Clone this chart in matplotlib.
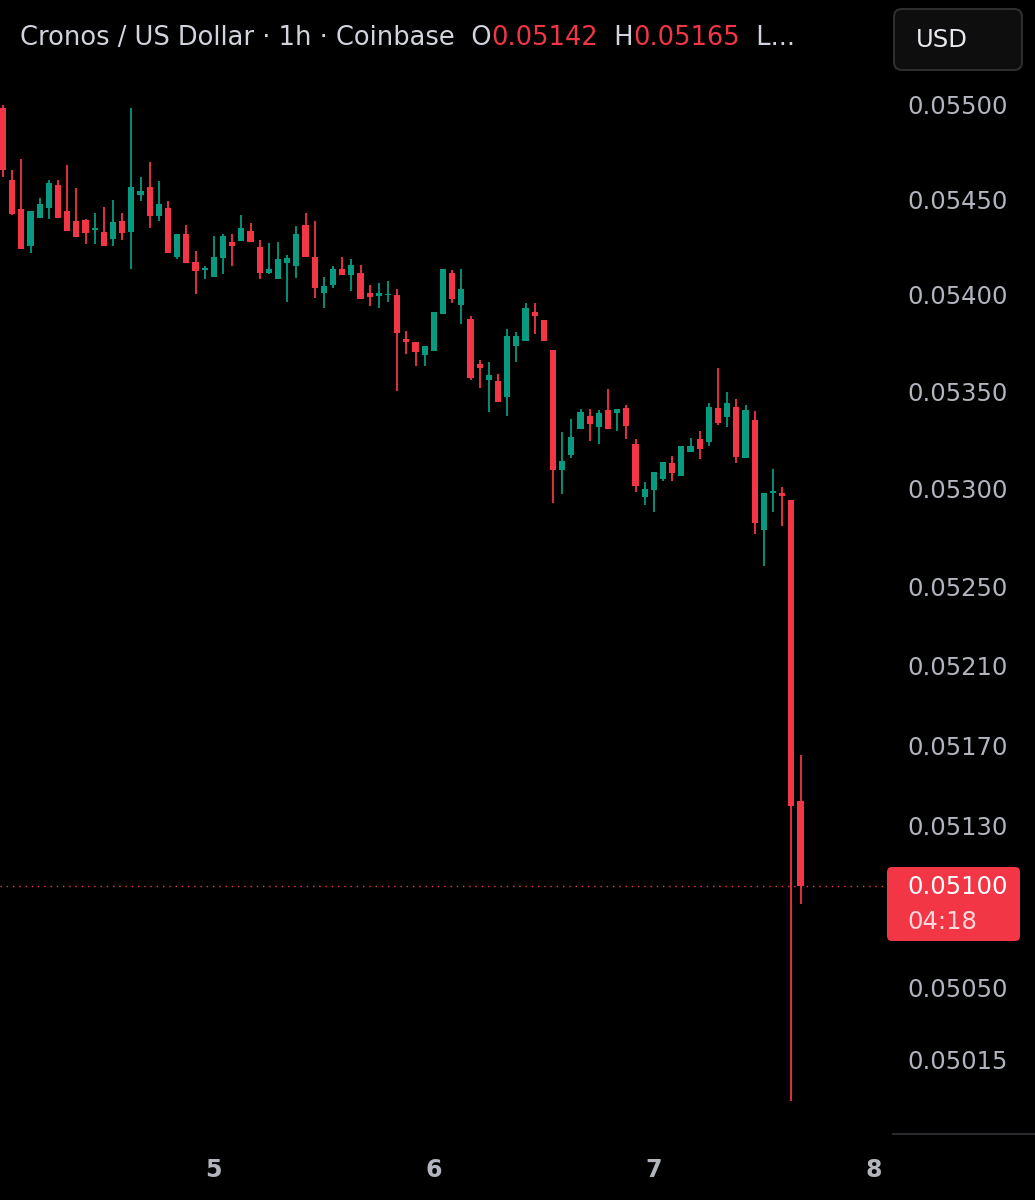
import numpy as np
import matplotlib.pyplot as plt
from matplotlib.patches import FancyBboxPatch
from matplotlib.ticker import FixedLocator, FixedFormatter, NullLocator, NullFormatter

plt.rcParams['font.family'] = ['DejaVu Sans']

# CRO/USD 1h candles (Coinbase), first candle = day 4 01:00
opens = [0.054984, 0.054605, 0.054448, 0.054255, 0.054400, 0.054453, 0.054574, 0.054437,
         0.054384, 0.054390, 0.054340, 0.054327, 0.054290, 0.054384, 0.054327, 0.054521,
         0.054563, 0.054411, 0.054453, 0.054200, 0.054316, 0.054169, 0.054132, 0.054095,
         0.054190, 0.054274, 0.054279, 0.054332, 0.054248, 0.054116, 0.054085, 0.054164,
         0.054153, 0.054364, 0.054195, 0.054011, 0.054053, 0.054137, 0.054101, 0.054116,
         0.054011, 0.053995, 0.053998, 0.054000, 0.053770, 0.053755, 0.053688, 0.053708,
         0.053901, 0.054116, 0.053948, 0.053875, 0.053640, 0.053557, 0.053552, 0.053470,
         0.053734, 0.053760, 0.053911, 0.053870, 0.053713, 0.053092, 0.053168, 0.053306,
         0.053372, 0.053316, 0.053403, 0.053388, 0.053413, 0.053225, 0.052954, 0.052990,
         0.053046, 0.053128, 0.053061, 0.053184, 0.053250, 0.053235, 0.053413, 0.053367,
         0.053418, 0.053153, 0.053352, 0.052784, 0.052974, 0.052977, 0.052938, 0.051420]
highs = [0.055000, 0.054653, 0.054716, 0.054437, 0.054506, 0.054605, 0.054605, 0.054684,
         0.054558, 0.054395, 0.054427, 0.054458, 0.054495, 0.054427, 0.054984, 0.054616,
         0.054695, 0.054595, 0.054490, 0.054316, 0.054364, 0.054227, 0.054148, 0.054306,
         0.054316, 0.054316, 0.054416, 0.054374, 0.054285, 0.054269, 0.054274, 0.054206,
         0.054358, 0.054427, 0.054385, 0.054095, 0.054153, 0.054195, 0.054185, 0.054158,
         0.054053, 0.054064, 0.054074, 0.054032, 0.053813, 0.053755, 0.053734, 0.053911,
         0.054137, 0.054127, 0.054137, 0.053891, 0.053661, 0.053651, 0.053589, 0.053823,
         0.053807, 0.053958, 0.053958, 0.053870, 0.053713, 0.053286, 0.053357, 0.053408,
         0.053408, 0.053403, 0.053510, 0.053408, 0.053429, 0.053250, 0.053031, 0.053082,
         0.053133, 0.053163, 0.053214, 0.053255, 0.053296, 0.053439, 0.053620, 0.053495,
         0.053459, 0.053429, 0.053398, 0.052974, 0.053097, 0.053005, 0.052938, 0.051650]
lows = [0.054616, 0.054416, 0.054242, 0.054221, 0.054400, 0.054395, 0.054400, 0.054332,
        0.054300, 0.054268, 0.054268, 0.054253, 0.054253, 0.054285, 0.054137, 0.054490,
        0.054348, 0.054384, 0.054216, 0.054185, 0.054164, 0.054006, 0.054080, 0.054095,
        0.054111, 0.054153, 0.054279, 0.054274, 0.054080, 0.054111, 0.054085, 0.053964,
        0.054090, 0.054195, 0.053984, 0.053932, 0.054037, 0.054101, 0.054021, 0.053978,
        0.053943, 0.053932, 0.053964, 0.053500, 0.053693, 0.053630, 0.053630, 0.053708,
        0.053901, 0.053956, 0.053849, 0.053557, 0.053516, 0.053393, 0.053444, 0.053372,
        0.053651, 0.053760, 0.053797, 0.053760, 0.052923, 0.052970, 0.053153, 0.053306,
        0.053240, 0.053225, 0.053306, 0.053291, 0.053250, 0.052980, 0.052912, 0.052876,
        0.053036, 0.053036, 0.053061, 0.053184, 0.053148, 0.053214, 0.053327, 0.053316,
        0.053127, 0.053153, 0.052763, 0.052603, 0.052876, 0.052804, 0.049950, 0.050913]
closes = [0.054653, 0.054421, 0.054242, 0.054437, 0.054478, 0.054588, 0.054400, 0.054332,
          0.054300, 0.054321, 0.054350, 0.054253, 0.054379, 0.054321, 0.054563, 0.054542,
          0.054411, 0.054474, 0.054216, 0.054316, 0.054164, 0.054122, 0.054137, 0.054195,
          0.054306, 0.054253, 0.054348, 0.054274, 0.054116, 0.054137, 0.054185, 0.054190,
          0.054316, 0.054195, 0.054037, 0.054048, 0.054137, 0.054101, 0.054158, 0.053978,
          0.053990, 0.054011, 0.054006, 0.053802, 0.053755, 0.053703, 0.053734, 0.053911,
          0.054137, 0.053978, 0.054032, 0.053568, 0.053619, 0.053583, 0.053444, 0.053786,
          0.053786, 0.053932, 0.053890, 0.053760, 0.053092, 0.053138, 0.053265, 0.053393,
          0.053332, 0.053388, 0.053306, 0.053408, 0.053321, 0.053010, 0.052995, 0.053082,
          0.053133, 0.053077, 0.053214, 0.053214, 0.053199, 0.053418, 0.053337, 0.053439,
          0.053158, 0.053403, 0.052820, 0.052974, 0.052985, 0.052960, 0.051395, 0.051000]

price_ticks = [0.05500, 0.05450, 0.05400, 0.05350, 0.05300, 0.05250,
               0.05210, 0.05170, 0.05130, 0.05050, 0.05015]
day_ticks = [5, 6, 7, 8]
countdown = "04:18"

UP = "#089981"
DOWN = "#f23645"
GREY = "#b2b5be"
HEAD = "#d1d4dc"

o = np.array(opens)
h = np.array(highs)
l = np.array(lows)
c = np.array(closes)
t = 4 + (1 + np.arange(len(o))) / 24.0   # day number
col = np.where(c >= o, UP, DOWN)

fig = plt.figure(figsize=(10.35, 12), dpi=100, facecolor="black")
ax = fig.add_axes([0, 66 / 1200, 885 / 1035, 1134 / 1200])
ax.set_facecolor("black")

ax.vlines(t, l, h, colors=col, lw=1.3)
lo = np.minimum(o, c)
body = np.maximum(np.abs(c - o), 0.000008)
ax.bar(t, body, bottom=lo, width=0.68 / 24, color=col, linewidth=0)

# last price line
ax.axhline(c[-1], color=DOWN, lw=1, ls=(0, (1, 3.5)))

ax.set_yscale("log")
ax.set_ylim(0.049792, 0.055561)
ax.set_xlim(4.028, 8.0507)
ax.yaxis.set_major_locator(FixedLocator(price_ticks))
ax.yaxis.set_major_formatter(FixedFormatter([f"{p:.5f}" for p in price_ticks]))
ax.yaxis.set_minor_locator(NullLocator())
ax.yaxis.set_minor_formatter(NullFormatter())
ax.yaxis.tick_right()
ax.tick_params(axis="y", length=0, pad=16, labelsize=17.5, labelcolor=GREY)
ax.set_xticks(day_ticks)
ax.set_xticklabels([str(d) for d in day_ticks], fontweight="bold")
ax.tick_params(axis="x", length=0, pad=17, labelsize=17, labelcolor=GREY)
for s in ax.spines.values():
    s.set_visible(False)

# overlay in pixel coords for header, currency button, price tag
ov = fig.add_axes([0, 0, 1, 1])
ov.set_xlim(0, 1035)
ov.set_ylim(1200, 0)
ov.axis("off")

parts = [("Cronos / US Dollar · 1h · Coinbase", HEAD), ("  O", HEAD),
         (f"{o[-1]:.5f}", DOWN), ("  H", HEAD), (f"{h[-1]:.5f}", DOWN), ("  L...", HEAD)]
prev = ov.text(20, 38, parts[0][0], color=parts[0][1], fontsize=18.5, va="center", ha="left")
for txt, cc in parts[1:]:
    prev = ov.annotate(txt, xy=(1, 0), xycoords=prev, va="bottom", ha="left",
                       color=cc, fontsize=18.5)

ov.add_patch(FancyBboxPatch((894, 9), 128, 61, boxstyle="round,pad=0,rounding_size=8",
                            fc="#0e0e0e", ec="#2e2e2e", lw=1.5))
ov.text(916, 40, "USD", color="#e8e9ee", fontsize=17.5, va="center", ha="left")

ov.add_patch(FancyBboxPatch((887, 867), 133, 74, boxstyle="round,pad=0,rounding_size=5",
                            fc=DOWN, ec="none"))
ov.text(907, 887, f"{c[-1]:.5f}", color="white", fontsize=17.5, va="center", ha="left")
ov.text(907, 922, countdown, color="#ffd9dd", fontsize=17.5, va="center", ha="left")

ov.plot([893, 1035], [1134, 1134], color="#2a2a2e", lw=1.5)

fig.savefig("out.png", dpi=100, facecolor="black")
